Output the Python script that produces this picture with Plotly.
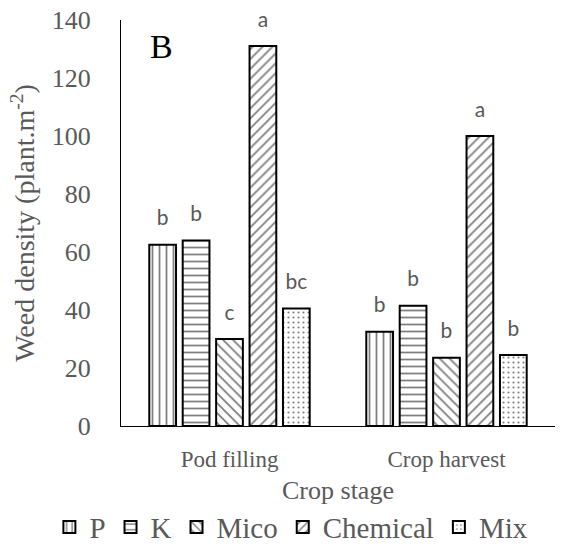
import plotly.graph_objects as go

stages = ["Pod filling", "Crop harvest"]
series = ["P", "K", "Mico", "Chemical", "Mix"]
values = {
    "P": [62.5, 32.5],
    "K": [64.0, 41.5],
    "Mico": [30.0, 23.5],
    "Chemical": [131.0, 100.0],
    "Mix": [40.5, 24.5],
}
letters = {
    "P": ["b", "b"],
    "K": ["b", "b"],
    "Mico": ["c", "b"],
    "Chemical": ["a", "a"],
    "Mix": ["bc", "b"],
}
shapes = {"P": "|", "K": "-", "Mico": "\\", "Chemical": "/", "Mix": "."}

serif = "Liberation Serif"
gray = "#595959"

fig = go.Figure()
for s in series:
    fig.add_trace(go.Bar(
        name=s, x=stages, y=values[s], offsetgroup=s,
        marker=dict(
            color="white",
            line=dict(color="black", width=2),
            pattern=dict(shape=shapes[s], fgcolor="black", bgcolor="white",
                         size=7 if s != "Mix" else 5,
                         solidity=0.25 if s != "Mix" else 0.15),
        ),
    ))
for s in series:
    fig.add_trace(go.Scatter(
        x=stages, y=values[s], offsetgroup=s, mode="markers+text",
        text=letters[s], textposition="top center",
        textfont=dict(family="Lato", size=21, color=gray),
        marker=dict(size=21, opacity=0), cliponaxis=False,
        showlegend=False, hoverinfo="skip",
    ))

fig.update_layout(
    width=564, height=544,
    margin=dict(l=121, r=9, t=20, b=118, autoexpand=False),
    paper_bgcolor="white", plot_bgcolor="white",
    barmode="group", bargap=0.23, bargroupgap=0.2,
    scattermode="group", scattergap=0.23,
    font=dict(family=serif, color=gray),
    showlegend=True,
    legend=dict(orientation="h", x=-0.165, xanchor="left",
                y=-0.249, yanchor="middle",
                font=dict(family="Times New Roman, serif", size=29, color=gray),
                itemwidth=30, traceorder="normal"),
    annotations=[dict(text="B", x=0.062, y=0.985, xref="paper", yref="paper",
                      xanchor="left", yanchor="top", showarrow=False,
                      font=dict(family=serif, size=34, color="black"))],
)
fig.update_xaxes(showline=True, linecolor="black", linewidth=1, ticks="",
                 ticklabelstandoff=12,
                 tickfont=dict(family=serif, size=23, color=gray),
                 title=dict(text="Crop stage", font=dict(family=serif, size=26, color=gray), standoff=10))
fig.update_yaxes(range=[0, 140], dtick=20, showline=True, linecolor="black", linewidth=1,
                 showgrid=False, zeroline=False, ticks="", ticklabelstandoff=24,
                 tickfont=dict(family=serif, size=26, color=gray),
                 title=dict(text="Weed density (plant.m<sup>-2</sup>)",
                            font=dict(family=serif, size=28, color=gray), standoff=8))

fig.write_html("out.html")
